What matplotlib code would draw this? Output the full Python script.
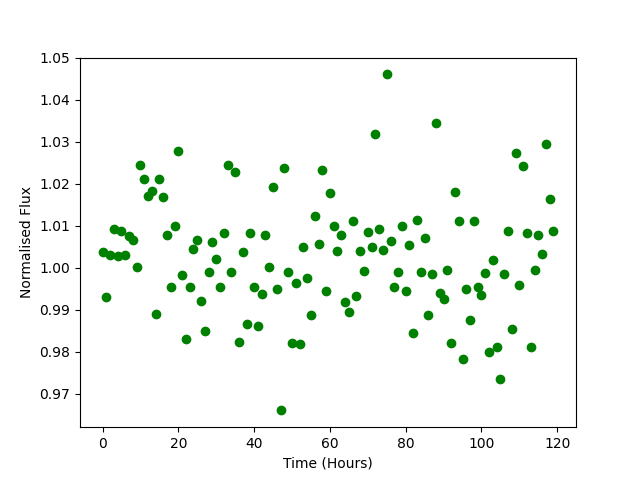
import matplotlib
matplotlib.use("Agg")
import matplotlib.pyplot as plt
import numpy as np

# Zeit in Stunden, 0..119
hours = np.arange(120)

# normierter Fluss
flux = [
    1.0037, 0.9930, 1.0030, 1.0093, 1.0027, 1.0087, 1.0030, 1.0075, 1.0065, 1.0002,
    1.0245, 1.0210, 1.0170, 1.0183, 0.9890, 1.0212, 1.0167, 1.0078, 0.9953, 1.0100,
    1.0278, 0.9983, 0.9830, 0.9953, 1.0045, 1.0065, 0.9920, 0.9848, 0.9990, 1.0060,
    1.0020, 0.9955, 1.0083, 1.0245, 0.9990, 1.0228, 0.9823, 1.0038, 0.9865, 1.0083,
    0.9953, 0.9860, 0.9938, 1.0077, 1.0002, 1.0193, 0.9950, 0.9660, 1.0238, 0.9990,
    0.9820, 0.9963, 0.9817, 1.0048, 0.9975, 0.9888, 1.0123, 1.0057, 1.0233, 0.9945,
    1.0178, 1.0100, 1.0040, 1.0078, 0.9917, 0.9895, 1.0110, 0.9933, 1.0040, 0.9993,
    1.0085, 1.0050, 1.0317, 1.0093, 1.0043, 1.0460, 1.0063, 0.9953, 0.9990, 1.0100,
    0.9945, 1.0053, 0.9845, 1.0113, 0.9990, 1.0070, 0.9888, 0.9985, 1.0345, 0.9940,
    0.9925, 0.9995, 0.9820, 1.0180, 1.0112, 0.9783, 0.9950, 0.9875, 1.0112, 0.9953,
    0.9935, 0.9988, 0.9800, 1.0017, 0.9810, 0.9735, 0.9985, 1.0088, 0.9855, 1.0273,
    0.9958, 1.0243, 1.0083, 0.9810, 0.9995, 1.0078, 1.0033, 1.0295, 1.0163, 1.0088,
]

fig, ax = plt.subplots(figsize=(6.4, 4.8), dpi=100)
ax.plot(hours, flux, 'o', color='green')
ax.set_xlabel('Time (Hours)')
ax.set_ylabel('Normalised Flux')

plt.savefig('out.png')
